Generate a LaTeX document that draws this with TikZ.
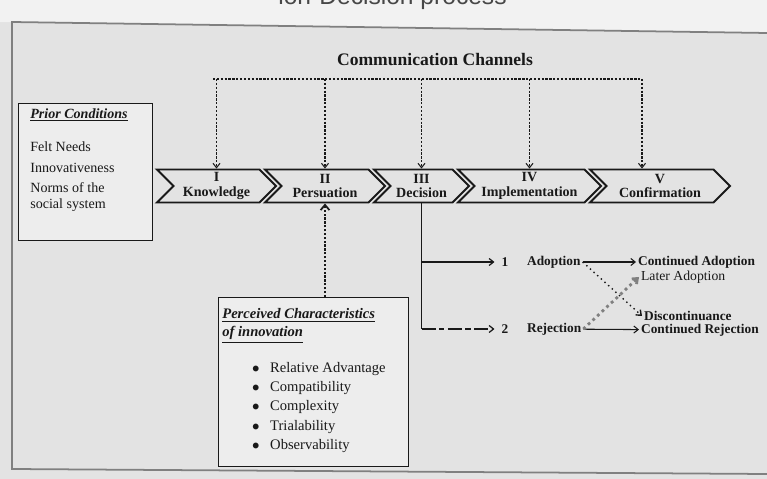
\documentclass[tikz,border=0pt]{standalone}
\usepackage{fontspec}
\setmainfont{Liberation Serif}
\setsansfont{Liberation Sans}
\usetikzlibrary{shapes.symbols,arrows.meta}

\definecolor{paper}{gray}{0.89}
\definecolor{margin}{gray}{0.95}
\definecolor{sheet}{gray}{0.93}
\definecolor{ink}{gray}{0.1}

\newcommand{\headtext}[1]{{\bfseries\itshape\underline{#1}}}
\newcommand{\dotitem}[1]{\hspace*{17pt}$\bullet$\hspace{6pt}#1}

\tikzset{
	stage/.style={signal, signal from=west, signal to=east, signal pointer angle=90,
		draw=ink, line width=1.1pt, fill=paper, inner sep=0pt, align=center,
		minimum height=0.66cm, minimum width=#1, font=\fontsize{8}{8.5}\selectfont\bfseries},
	condbox/.style={draw=ink, line width=0.8pt, fill=sheet, anchor=north west, inner sep=0pt},
	chan/.style={draw=ink, line width=0.6pt, dash pattern=on 1.3pt off 0.9pt},
	barb/.style={-{Straight Barb[length=2.5pt,width=4pt]}},
	choice/.style={anchor=west, inner sep=1pt, font=\fontsize{7.6}{8}\selectfont\bfseries}
}

\begin{document}
\begin{tikzpicture}[x=0.02cm, y=-0.02cm, text=ink]
	\useasboundingbox (0,0) rectangle (767,479);
	\fill[paper] (0,0) rectangle (767,479);
	\fill[margin] (0,0) -- (767,0) -- (767,33) -- (0,22) -- cycle;
	\node[anchor=base east, inner sep=0pt, font=\sffamily\fontsize{14}{14}\selectfont, text=ink!80] (title) at (507,5) {ion-Decision process};
	\draw[gray, line width=1pt] (767,33) -- (12,22) -- (12,469) -- (767,474);

	\node[font=\fontsize{10}{10}\selectfont\bfseries] (cc) at (435,60) {Communication Channels};

	\node[stage=2.38cm] (K) at (216.5,186) {I\\Knowledge};
	\node[stage=2.4cm] (P) at (325,186) {II\\Persuation};
	\node[stage=1.9cm] (D) at (421.5,186) {III\\Decision};
	\node[stage=2.86cm] (I) at (529.5,186) {IV\\Implementation};
	\node[stage=2.8cm] (C) at (660,186) {V\\Confirmation};

	\coordinate (busL) at (213,79);
	\coordinate (busR) at (642,79);
	\draw[chan] (busL) -- (busR);
	\foreach \s in {K,P,D,I}
		\draw[chan, barb] (busL -| \s.north) -- (\s.north);
	\draw[chan, barb] (busR) -- (busR |- C.north);

	\node[condbox, minimum width=2.68cm, minimum height=2.74cm] (prior) at (18,103) {};
	\node[anchor=north west, align=left, inner sep=0pt, font=\fontsize{8}{9}\selectfont] (priortxt) at (30,108) {%
		\headtext{Prior Conditions}\\[10pt]
		Felt Needs\\[3pt]
		Innovativeness\\[2.5pt]
		Norms of the\\
		social system};

	\node[condbox, minimum width=3.8cm, minimum height=3.38cm] (perc) at (218,297) {};
	\node[anchor=north west, align=left, inner sep=0pt, font=\fontsize{8.3}{10}\selectfont] (perctxt) at (222,308) {%
		\headtext{Perceived Characteristics}\\[0.5pt]
		\headtext{of innovation}\\[10pt]
		\dotitem{Relative Advantage}\\[1pt]
		\dotitem{Compatibility}\\[1pt]
		\dotitem{Complexity}\\[1pt]
		\dotitem{Trialability}\\[1pt]
		\dotitem{Observability}};
	\draw[chan, -{Straight Barb[length=3pt,width=5pt,line width=1pt]}] (perc.north -| P.south) -- (P.south);

	\node[choice, anchor=center] (n1) at (505,262) {1};
	\node[choice] (adop) at (525,262) {Adoption};
	\node[choice, anchor=center] (n2) at (505,329) {2};
	\node[choice] (rej) at (525,329) {Rejection};
	\node[choice] (contA) at (636,262) {Continued Adoption};
	\node[choice, font=\fontsize{7.8}{8}\selectfont] (later) at (639,277) {Later Adoption};
	\node[choice] (disc) at (642,316) {Discontinuance};
	\node[choice] (contR) at (639,330) {Continued Rejection};

	\draw[ink, line width=0.9pt] (D.south) -- (D.south |- n2);
	\draw[ink, line width=0.7pt, barb] (D.south |- n1) -- ([xshift=-6pt]n1.center);
	\draw[ink, line width=0.7pt, dash pattern=on 8pt off 2pt on 3pt off 2pt, barb] (D.south |- n2) -- ([xshift=-6pt]n2.center);
	\draw[ink, line width=0.6pt, barb] (adop) -- (contA);
	\draw[ink, line width=0.6pt, barb] (rej) -- (contR);
	\draw[ink, line width=0.8pt, dotted, barb] (adop.east) -- (disc.west);
	\draw[gray, line width=1.6pt, dotted, barb] (rej.east) -- (later.west);
\end{tikzpicture}
\end{document}
